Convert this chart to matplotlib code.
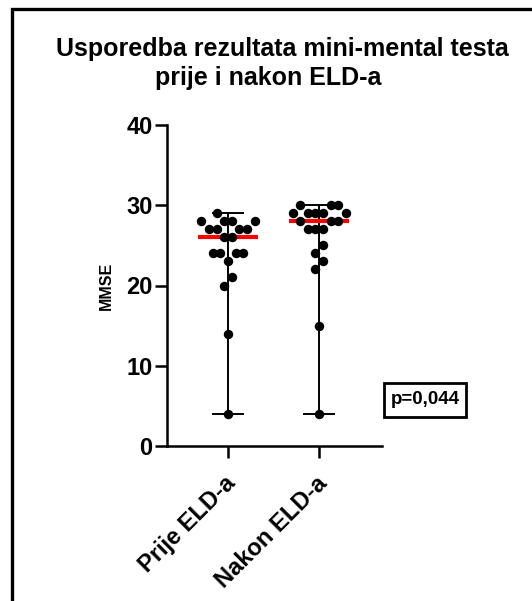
import numpy as np
import matplotlib
matplotlib.use("Agg")
import matplotlib.pyplot as plt
import matplotlib.patches as patches
import matplotlib.transforms as mtransforms

groups = ["Prije ELD-a", "Nakon ELD-a"]
prije = [29, 28, 28, 28, 28, 27, 27, 27, 27, 26, 26,
         24, 24, 24, 24, 23, 21, 20, 14, 4]
nakon = [30, 30, 30, 29, 29, 29, 29, 29, 28, 28, 28,
         27, 27, 27, 25, 24, 23, 22, 15, 4]
title_1 = "Usporedba rezultata mini-mental testa"
title_2 = "prije i nakon ELD-a"
y_label = "MMSE"
p_text = "p=0,044"
y_ticks = [0, 10, 20, 30, 40]

MARKER = 6.8  # points


def swarm(values, step_x, px_y, dia_px):
    """Greedy column scatter: lowest value first, nearest free slot,
    then each connected cluster is centred."""
    values = np.asarray(values, dtype=float)
    xs = np.zeros(len(values))
    placed = []
    cands = [0.0]
    for k in range(1, 60):
        cands += [k * 0.5, -k * 0.5]
    for i in np.argsort(values, kind="stable"):
        y = values[i]
        for c in cands:
            x = c * step_x
            ok = True
            for py, pxx in placed:
                if abs(py - y) * px_y <= dia_px and abs(pxx - x) < step_x * 0.99:
                    ok = False
                    break
            if ok:
                break
        placed.append((y, x))
        xs[i] = x
    uniq = np.unique(values)
    clusters = [[uniq[0]]]
    for u in uniq[1:]:
        if (u - clusters[-1][-1]) * px_y <= dia_px:
            clusters[-1].append(u)
        else:
            clusters.append([u])
    for cl in clusters:
        m = np.isin(values, cl)
        xs[m] -= (xs[m].min() + xs[m].max()) / 2
    return xs


def main():
    plt.rcParams["font.family"] = ["Liberation Sans", "DejaVu Sans"]
    plt.rcParams["font.weight"] = "bold"

    fig = plt.figure(figsize=(5.32, 6.01), dpi=100)
    ax = fig.add_axes([167 / 532, 1 - 446 / 601, 215 / 532, 321 / 601])
    ax.set_xlim(-0.67, 1.69)
    ax.set_ylim(0, 40)

    p0 = ax.transData.transform((0, 0))
    p1 = ax.transData.transform((1, 1))
    px_x, px_y = p1 - p0
    dia_px = 8.6
    step_x = 7.6 / px_x

    for i, vals in enumerate([prije, nakon]):
        lo, hi, med = min(vals), max(vals), np.median(vals)
        ax.plot([i, i], [lo, hi], color="black", lw=1.4, zorder=1)
        ax.plot([i - 0.165, i + 0.165], [lo, lo], color="black", lw=1.4, zorder=1)
        ax.plot([i - 0.165, i + 0.165], [hi, hi], color="black", lw=1.4, zorder=1)
        ax.plot([i - 0.33, i + 0.33], [med, med], color="#ff0000", lw=3,
                zorder=2, solid_capstyle="butt")
        offs = swarm(vals, step_x, px_y, dia_px)
        ax.plot(i + offs, vals, "o", color="black", markersize=MARKER,
                markeredgewidth=0, zorder=3, clip_on=False)

    ax.tick_params(axis="y", labelsize=17, length=8.5, width=1.8, pad=2)
    ax.tick_params(axis="x", length=8.5, width=1.8, pad=5)
    ax.set_yticks(y_ticks)
    ax.set_xticks([0, 1])
    ax.set_xticklabels(groups, rotation=45, ha="right", va="top",
                       rotation_mode="anchor", fontsize=17, fontweight="bold")
    shift = mtransforms.ScaledTranslation(-4 / 100, -7 / 100, fig.dpi_scale_trans)
    for lab in ax.get_xticklabels():
        lab.set_transform(lab.get_transform() + shift)
    for lab in ax.get_yticklabels():
        lab.set_fontweight("bold")
    ax.set_ylabel(y_label, fontsize=11.5, fontweight="bold", labelpad=9)
    for side in ["top", "right"]:
        ax.spines[side].set_visible(False)
    for side in ["left", "bottom"]:
        ax.spines[side].set_linewidth(1.8)

    fig.text(282 / 532, 1 - 56 / 601, title_1, ha="center", va="baseline",
             fontsize=18, fontweight="bold")
    fig.text(268 / 532, 1 - 85 / 601, title_2, ha="center", va="baseline",
             fontsize=18, fontweight="bold")

    box = patches.Rectangle((384 / 532, 1 - 417 / 601), 82 / 532, 34 / 601,
                            transform=fig.transFigure, facecolor="white",
                            edgecolor="black", linewidth=2)
    fig.patches.append(box)
    fig.text(425 / 532, 1 - 400 / 601, p_text, ha="center", va="center",
             fontsize=13.5, fontweight="bold")

    frame = patches.Rectangle((12 / 532, -0.2), 1.5, 1.2 - 9 / 601,
                              transform=fig.transFigure, fill=False,
                              edgecolor="black", linewidth=2.4, clip_on=False)
    fig.patches.append(frame)

    fig.savefig("out.png", dpi=100)


if __name__ == "__main__":
    main()
